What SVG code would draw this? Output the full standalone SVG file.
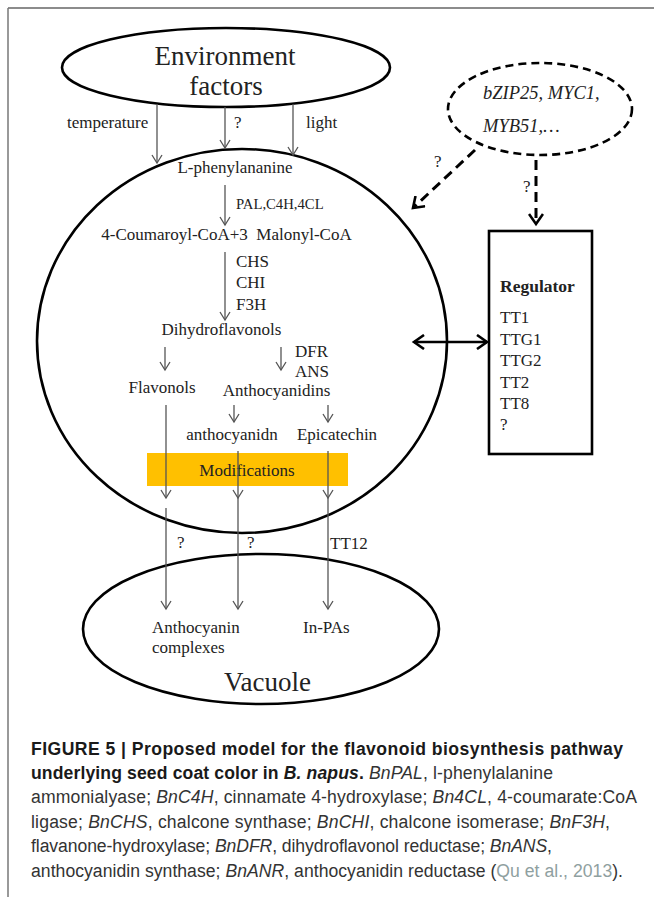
<svg xmlns="http://www.w3.org/2000/svg" width="654" height="897" viewBox="0 0 654 897">
<style>
.t{font-family:"Liberation Serif","Times New Roman",serif;font-size:17px;fill:#222}
.s{font-size:14.7px}
.big{font-size:27px}
.it{font-style:italic;font-size:18.5px}
.b{font-weight:bold}
.shape{fill:none;stroke:#000;stroke-width:2.6}
.thin{stroke:#555;stroke-width:1.3;fill:none}
.dash{stroke:#000;stroke-width:3;fill:none;stroke-dasharray:10 6}
.cap{font-family:"Liberation Sans",Arial,sans-serif;font-size:17.6px;fill:#333}
.cb{font-weight:bold;fill:#1a1a1a}
.ci{font-style:italic}
.cite{fill:#8fa0a0}
</style>
<defs>
<marker id="ah" markerUnits="userSpaceOnUse" markerWidth="12" markerHeight="12" refX="0" refY="0" viewBox="-10 -6 12 12" orient="auto">
<path d="M-8,-5 L0,0 L-8,5" fill="none" stroke="#555" stroke-width="1.3"/>
</marker>
<marker id="ahb" markerUnits="userSpaceOnUse" markerWidth="16" markerHeight="16" refX="0" refY="0" viewBox="-13 -8 16 16" orient="auto-start-reverse">
<path d="M-10,-7 L0,0 L-10,7" fill="none" stroke="#000" stroke-width="2.6"/>
</marker>
</defs>
<g id="frame">
<line x1="8" y1="8" x2="654" y2="8" stroke="#666" stroke-width="1.5"/>
<line x1="8" y1="8" x2="8" y2="897" stroke="#777" stroke-width="1.5"/>
</g>
<g id="environment">
<ellipse class="shape" cx="226" cy="67.5" rx="164" ry="39.5" stroke-width="3"/>
<text class="t big" x="225" y="65" text-anchor="middle">Environment</text>
<text class="t big" x="226" y="95" text-anchor="middle">factors</text>
</g>
<g id="regulators-tf">
<ellipse class="shape" cx="540" cy="109" rx="92" ry="46" stroke-width="2" stroke-dasharray="8 5"/>
<text class="t it" x="483" y="99">bZIP25, MYC1,</text>
<text class="t it" x="483" y="132">MYB51,…</text>
</g>
<g id="cell">
<ellipse class="shape" cx="242" cy="341" rx="205" ry="192"/>
</g>
<g id="modifications">
<rect x="147" y="453" width="201" height="33" fill="#FFC000"/>
<text class="t" x="247" y="476" text-anchor="middle">Modifications</text>
</g>
<g id="pathway-labels">
<text class="t" x="235" y="173" text-anchor="middle">L-phenylananine</text>
<text class="t s" x="236" y="209">PAL,C4H,4CL</text>
<text class="t" x="226.5" y="240" text-anchor="middle" xml:space="preserve">4-Coumaroyl-CoA+3  Malonyl-CoA</text>
<text class="t" x="236" y="267">CHS</text>
<text class="t" x="236" y="288">CHI</text>
<text class="t" x="236" y="310">F3H</text>
<text class="t" x="221.5" y="335" text-anchor="middle">Dihydroflavonols</text>
<text class="t" x="295" y="357">DFR</text>
<text class="t" x="295" y="377">ANS</text>
<text class="t" x="162" y="393" text-anchor="middle">Flavonols</text>
<text class="t" x="276.5" y="396" text-anchor="middle">Anthocyanidins</text>
<text class="t" x="232" y="440" text-anchor="middle">anthocyanidn</text>
<text class="t" x="337" y="440" text-anchor="middle">Epicatechin</text>
</g>
<g id="regulator">
<rect class="shape" x="489" y="231" width="103" height="223"/>
<text class="t b" x="500" y="292" style="font-size:17.5px">Regulator</text>
<text class="t" x="500" y="323">TT1</text>
<text class="t" x="500" y="344.5">TTG1</text>
<text class="t" x="500" y="366">TTG2</text>
<text class="t" x="500" y="387.5">TT2</text>
<text class="t" x="500" y="409">TT8</text>
<text class="t" x="500" y="430">?</text>
</g>
<g id="vacuole">
<ellipse class="shape" cx="261" cy="629" rx="178" ry="75" stroke-width="3"/>
<text class="t" x="152" y="633">Anthocyanin</text>
<text class="t" x="152" y="653">complexes</text>
<text class="t" x="303" y="633">In-PAs</text>
<text class="t big" x="267.5" y="691" text-anchor="middle">Vacuole</text>
</g>
<g id="connectors">
<line class="thin" x1="157" y1="104" x2="157" y2="163" marker-end="url(#ah)"/>
<line class="thin" x1="225" y1="107" x2="225" y2="148" marker-end="url(#ah)"/>
<line class="thin" x1="293" y1="104" x2="293" y2="155" marker-end="url(#ah)"/>
<text class="t" x="67" y="128">temperature</text>
<text class="t" x="234" y="128">?</text>
<text class="t" x="306" y="128">light</text>
<line class="thin" x1="225" y1="185" x2="225" y2="225" marker-end="url(#ah)"/>
<line class="thin" x1="225" y1="252" x2="225" y2="320" marker-end="url(#ah)"/>
<line class="thin" x1="165" y1="347" x2="165" y2="370" marker-end="url(#ah)"/>
<line class="thin" x1="281" y1="347" x2="281" y2="370" marker-end="url(#ah)"/>
<line class="thin" x1="234" y1="405" x2="234" y2="422" marker-end="url(#ah)"/>
<line class="thin" x1="328" y1="405" x2="328" y2="422" marker-end="url(#ah)"/>
<line class="thin" x1="166" y1="405" x2="166" y2="498" marker-end="url(#ah)"/>
<line class="thin" x1="166" y1="508" x2="166" y2="609" marker-end="url(#ah)"/>
<line class="thin" x1="238" y1="451" x2="238" y2="498" marker-end="url(#ah)"/>
<line class="thin" x1="238" y1="498" x2="238" y2="609" marker-end="url(#ah)"/>
<line class="thin" x1="328" y1="451" x2="328" y2="498" marker-end="url(#ah)"/>
<line class="thin" x1="328" y1="498" x2="328" y2="609" marker-end="url(#ah)"/>
<text class="t" x="177" y="548">?</text>
<text class="t" x="247" y="548">?</text>
<text class="t" x="330" y="549">TT12</text>
<line class="dash" x1="475" y1="150" x2="413" y2="208" marker-end="url(#ahb)"/>
<text class="t" x="434" y="167">?</text>
<line class="dash" x1="536" y1="160" x2="536" y2="224" marker-end="url(#ahb)"/>
<text class="t" x="523" y="192">?</text>
<line x1="414" y1="342" x2="487" y2="342" stroke="#000" stroke-width="2.6" marker-start="url(#ahb)" marker-end="url(#ahb)"/>
</g>
<g id="caption">
<text class="cap cb" x="31" y="755" textLength="592">FIGURE 5 | Proposed model for the flavonoid biosynthesis pathway</text>
<text class="cap" x="31" y="779" textLength="522"><tspan class="cb">underlying seed coat color in </tspan><tspan class="cb ci">B. napus</tspan><tspan class="cb">.</tspan> <tspan class="ci">BnPAL</tspan>, l-phenylalanine</text>
<text class="cap" x="31" y="803" textLength="606">ammonialyase; <tspan class="ci">BnC4H</tspan>, cinnamate 4-hydroxylase; <tspan class="ci">Bn4CL</tspan>, 4-coumarate:CoA</text>
<text class="cap" x="31" y="828" textLength="579">ligase; <tspan class="ci">BnCHS</tspan>, chalcone synthase; <tspan class="ci">BnCHI</tspan>, chalcone isomerase; <tspan class="ci">BnF3H</tspan>,</text>
<text class="cap" x="31" y="852" textLength="521">flavanone-hydroxylase; <tspan class="ci">BnDFR</tspan>, dihydroflavonol reductase; <tspan class="ci">BnANS</tspan>,</text>
<text class="cap" x="31" y="877" textLength="592">anthocyanidin synthase; <tspan class="ci">BnANR</tspan>, anthocyanidin reductase (<tspan class="cite">Qu et al., 2013</tspan>).</text>
</g>
</svg>
